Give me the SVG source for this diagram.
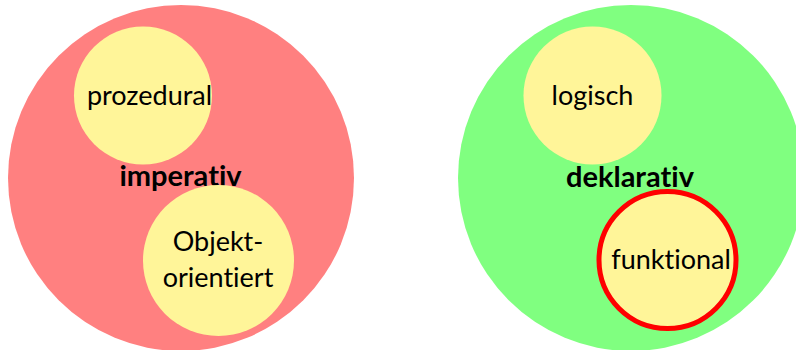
<svg xmlns="http://www.w3.org/2000/svg" width="796" height="350" viewBox="0 0 796 350">
<style>
.big-red{fill:#ff8080}
.big-green{fill:#80ff80}
.small{fill:#fff599}
.hl{stroke:#ff0000;stroke-width:5}
text{font-family:Lato,"Open Sans","DejaVu Sans",sans-serif;fill:#000;text-anchor:middle;font-variant-ligatures:none;font-feature-settings:"liga" 0,"clig" 0}
.lbl{font-size:27px}
.head{font-size:29px;font-weight:bold}
</style>
<rect width="796" height="350" fill="#ffffff"/>
<g id="imperativ">
<circle class="big-red" cx="181" cy="178" r="173"/>
<text class="head" x="180.5" y="186">imperativ</text>
</g>
<g id="prozedural">
<circle class="small" cx="143" cy="95.5" r="69"/>
<text class="lbl" x="149.5" y="104.5">prozedural</text>
</g>
<g id="objektorientiert">
<circle class="small" cx="218.5" cy="260.5" r="75.5"/>
<text class="lbl" x="218" y="251">Objekt-</text>
<text class="lbl" x="218" y="287">orientiert</text>
</g>
<g id="deklarativ">
<circle class="big-green" cx="631" cy="178" r="173"/>
<text class="head" x="630" y="186.5">deklarativ</text>
</g>
<g id="logisch">
<circle class="small" cx="592.5" cy="95.5" r="69"/>
<text class="lbl" x="592.5" y="104.5">logisch</text>
</g>
<g id="funktional">
<circle class="small hl" cx="667.5" cy="260" r="68.5"/>
<text class="lbl" x="671" y="269">funktional</text>
</g>
<g id="connectors"></g>
</svg>
